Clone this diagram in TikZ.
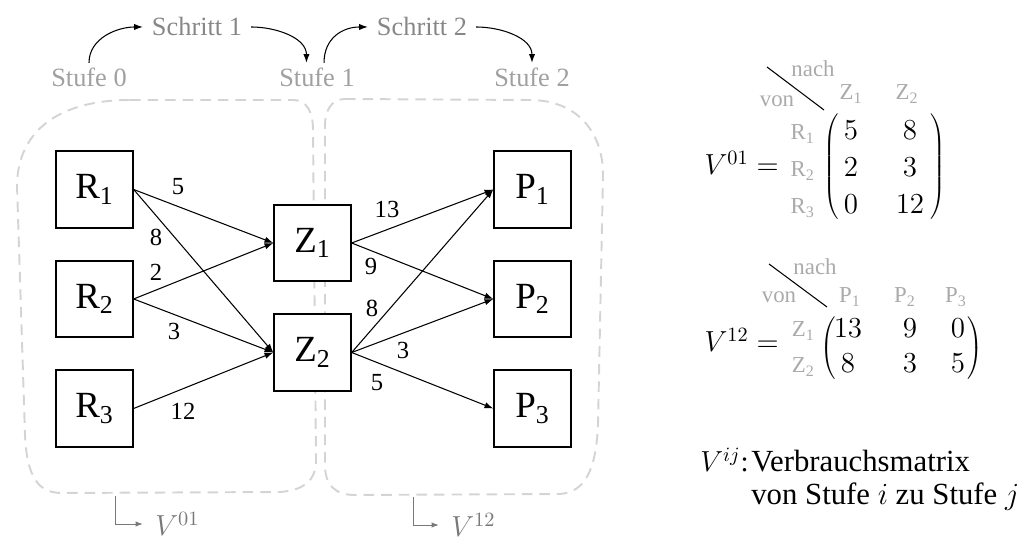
\documentclass[tikz,border=0pt]{standalone}
\usepackage{fix-cm}
\usepackage{fontspec}
\setmainfont{Liberation Serif}
\usetikzlibrary{arrows.meta}

\definecolor{stufegray}{RGB}{160,160,160}
\definecolor{schrittgray}{RGB}{135,135,135}
\definecolor{framegray}{RGB}{212,212,212}
\definecolor{headgray}{RGB}{170,170,170}
\definecolor{vgray}{RGB}{120,120,120}

\newcommand{\openpar}[1]{$\nulldelimiterspace=0pt\left(\vrule height #1 depth #1 width 0pt\right.$}
\newcommand{\closepar}[1]{$\nulldelimiterspace=0pt\left.\vrule height #1 depth #1 width 0pt\right)$}

\tikzset{
  box/.style={draw, line width=1.1pt, fill=white, minimum size=43.5pt, inner sep=0pt, font=\rmfamily\fontsize{21}{24}\selectfont},
  edge/.style={line width=0.6pt, -{Latex[length=5pt,width=3.6pt]}},
  weight/.style={inner sep=0pt, font=\rmfamily\fontsize{14}{16}\selectfont},
  stufe/.style={inner sep=0pt, anchor=base, text=stufegray, font=\fontsize{15}{18}\selectfont},
  schritt/.style={inner sep=0pt, anchor=base, text=schrittgray, font=\fontsize{15}{18}\selectfont},
  bow/.style={line width=0.6pt, -{Latex[length=5pt,width=3.6pt]}},
  region/.style={draw=framegray, line width=1.1pt, dash pattern=on 6pt off 4pt},
  mth/.style={inner sep=0pt, font=\fontsize{16.5}{20}\selectfont},
  head/.style={inner sep=0pt, anchor=base, text=headgray, font=\fontsize{13}{15}\selectfont},
  rowhead/.style={head, anchor=base east},
  txt/.style={inner sep=0pt, anchor=base west, font=\fontsize{17.5}{21}\selectfont},
  vlabel/.style={inner sep=0pt, anchor=west, text=vgray, font=\fontsize{16.5}{20}\selectfont},
  hook/.style={draw=vgray, line width=0.5pt, -{Latex[length=4pt,width=3pt]}},
}

\begin{document}
\begin{tikzpicture}[x=0.02cm, y=-0.02cm]
        \useasboundingbox (0,0) rectangle (1024,546);

        % Stufen und Schritte
        \node[stufe] (s0) at (89,87) {Stufe 0};
        \node[stufe] (s1) at (317,87) {Stufe 1};
        \node[stufe] (s2) at (532,87) {Stufe 2};
        \node[schritt] (k1) at (197,36) {Schritt 1};
        \node[schritt] (k2) at (422,36) {Schritt 2};

        \draw[bow] ([yshift=3pt]s0.north) .. controls +(0,-25) and +(-25,0) .. ([xshift=-5pt]k1.west);
        \draw[bow] ([xshift=5pt]k1.east) .. controls +(25,0) and +(0,-25) .. ([xshift=-6pt,yshift=3pt]s1.north);
        \draw[bow] ([xshift=4pt,yshift=3pt]s1.north) .. controls +(0,-25) and +(-25,0) .. ([xshift=-5pt]k2.west);
        \draw[bow] ([xshift=5pt]k2.east) .. controls +(25,0) and +(0,-25) .. ([yshift=3pt]s2.north);

        % Bereiche
        \draw[region] (130,100) -- (293,100) .. controls (307,100) and (313,112) .. (313,130)
            -- (316,460) .. controls (316,480) and (305,490) .. (280,492)
            -- (60,493) .. controls (40,492) and (27,480) .. (25,435)
            -- (17,185) .. controls (18,130) and (60,100) .. (130,100) -- cycle;
        \draw[region] (345,99) -- (530,100) .. controls (575,100) and (603,130) .. (603,175)
            -- (598,425) .. controls (596,470) and (585,492) .. (560,494)
            -- (355,495) .. controls (335,495) and (325,485) .. (325,465)
            -- (325,125) .. controls (325,110) and (332,99) .. (345,99) -- cycle;

        % Knoten
        \node[box] (r1) at (94.5,189.5) {R\textsubscript{1}};
        \node[box] (r2) at (94.5,299) {R\textsubscript{2}};
        \node[box] (r3) at (94.5,408.5) {R\textsubscript{3}};
        \node[box] (z1) at (312.5,243) {Z\textsubscript{1}};
        \node[box] (z2) at (312.5,352.5) {Z\textsubscript{2}};
        \node[box] (p1) at (532.5,189.5) {P\textsubscript{1}};
        \node[box] (p2) at (532.5,299) {P\textsubscript{2}};
        \node[box] (p3) at (532.5,408.5) {P\textsubscript{3}};

        \draw[edge] (r1.east) -- (z1.west);
        \draw[edge] (r1.east) -- (z2.west);
        \draw[edge] (r2.east) -- (z1.west);
        \draw[edge] (r2.east) -- (z2.west);
        \draw[edge] (r3.east) -- (z2.west);
        \draw[edge] (z1.east) -- (p1.west);
        \draw[edge] (z1.east) -- (p2.west);
        \draw[edge] (z2.east) -- (p1.west);
        \draw[edge] (z2.east) -- (p2.west);
        \draw[edge] (z2.east) -- (p3.west);

        \node[weight] (w11) at (178,187) {5};
        \node[weight] (w12) at (156,237) {8};
        \node[weight] (w21) at (156,272) {2};
        \node[weight] (w22) at (174,331) {3};
        \node[weight] (w32) at (183,411) {12};
        \node[weight] (u11) at (387,209) {13};
        \node[weight] (u12) at (371,266) {9};
        \node[weight] (u21) at (372,308) {8};
        \node[weight] (u22) at (403,350) {3};
        \node[weight] (u23) at (377,383) {5};

        % Verweise unten
        \node[vlabel] (v01) at (155,524) {$V^{01}$};
        \node[vlabel] (v12) at (451,525) {$V^{12}$};
        \coordinate (h01) at (115,496);
        \coordinate (h12) at (413,497);
        \draw[hook] (h01) |- ([xshift=-7pt]v01.west);
        \draw[hook] (h12) |- ([xshift=-7pt]v12.west);

        % Matrix V01
        \node[mth, anchor=base east] (m01) at (779,175) {$V^{01} =$};
        \node[head] (n01) at (813,77) {nach};
        \node[head] (o01) at (777,107) {von};
        \coordinate (d01a) at (767,67);
        \coordinate (d01b) at (824,110);
        \draw[line width=0.6pt] (d01a) -- (d01b);
        \node[head] (cz1) at (851,100) {Z\textsubscript{1}};
        \node[head] (cz2) at (907,100) {Z\textsubscript{2}};
        \node[rowhead] (rr1) at (815,140) {R\textsubscript{1}};
        \node[rowhead] (rr2) at (815,177) {R\textsubscript{2}};
        \node[rowhead] (rr3) at (815,214) {R\textsubscript{3}};
        \node[mth] (lp01) at (831,167) {\openpar{26pt}};
        \node[mth] (rp01) at (938,167) {\closepar{26pt}};
        \node[mth, anchor=base] (a11) at (851,140) {$5$};
        \node[mth, anchor=base] (a12) at (910,140) {$8$};
        \node[mth, anchor=base] (a21) at (851,177) {$2$};
        \node[mth, anchor=base] (a22) at (910,177) {$3$};
        \node[mth, anchor=base] (a31) at (851,214) {$0$};
        \node[mth, anchor=base] (a32) at (910,214) {$12$};

        % Matrix V12
        \node[mth, anchor=base east] (m12) at (779,352) {$V^{12} =$};
        \node[head] (n12) at (815,275) {nach};
        \node[head] (o12) at (779,303) {von};
        \coordinate (d12a) at (769,264);
        \coordinate (d12b) at (827,307);
        \draw[line width=0.6pt] (d12a) -- (d12b);
        \node[head] (cp1) at (850,303) {P\textsubscript{1}};
        \node[head] (cp2) at (905,303) {P\textsubscript{2}};
        \node[head] (cp3) at (956,303) {P\textsubscript{3}};
        \node[rowhead] (rz1) at (815,337) {Z\textsubscript{1}};
        \node[rowhead] (rz2) at (815,373) {Z\textsubscript{2}};
        \node[mth] (lp12) at (828,348.5) {\openpar{14.5pt}};
        \node[mth] (rp12) at (975,348.5) {\closepar{14.5pt}};
        \node[mth, anchor=base] (b11) at (848,338) {$13$};
        \node[mth, anchor=base] (b12) at (910,338) {$9$};
        \node[mth, anchor=base] (b13) at (958,338) {$0$};
        \node[mth, anchor=base] (b21) at (848,373) {$8$};
        \node[mth, anchor=base] (b22) at (910,373) {$3$};
        \node[mth, anchor=base] (b23) at (958,373) {$5$};

        % Legende
        \node[mth, anchor=base east] (vij) at (749,472) {$V^{ij}$:};
        \node[txt] (t1) at (751,472) {Verbrauchsmatrix};
        \node[txt] (t2) at (751,505) {von Stufe $i$ zu Stufe $j$};

    \end{tikzpicture}
\end{document}
